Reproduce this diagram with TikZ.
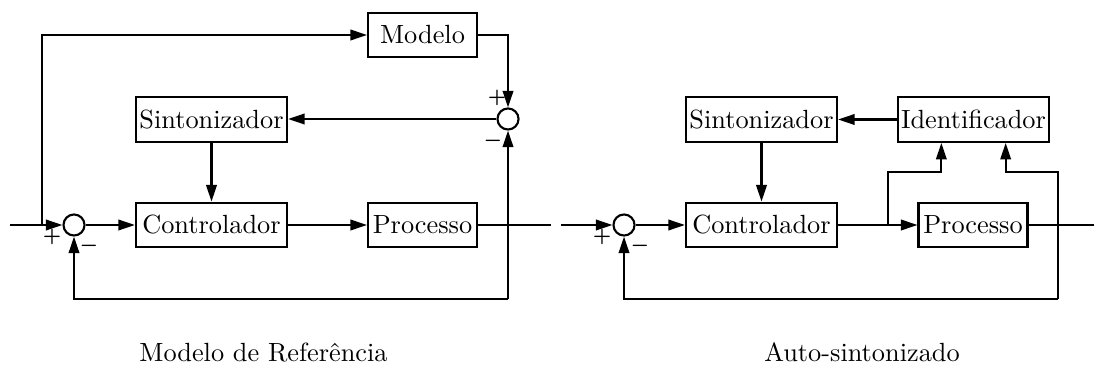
\documentclass[tikz,border=0pt]{standalone}
\usetikzlibrary{arrows.meta,calc}
\begin{document}
\begin{tikzpicture}[x=0.38pt,y=-0.38pt,
  line width=0.8pt,
  blk/.style={draw,rectangle,inner sep=0pt,minimum height=17pt,line width=0.8pt},
  wide/.style={blk,minimum width=57.4pt},
  narrow/.style={blk,minimum width=41.4pt},
  sumj/.style={draw,circle,inner sep=0pt,minimum size=8pt,line width=0.8pt},
  sgn/.style={inner sep=0pt,font=\fontsize{7.5}{7.5}\selectfont\boldmath},
  arr/.style={-{Triangle[length=6.3pt,width=4pt]}},
  captxt/.style={inner sep=0pt,anchor=base}]
\useasboundingbox (0,0) rectangle (1094,366);

% ---------- left: Modelo de Referencia ----------
\node[narrow] (modelo) at (422.5,35) {Modelo};
\node[wide] (sintL) at (211.5,119.5) {Sintonizador};
\node[wide] (ctrlL) at (211.5,225) {Controlador};
\node[narrow] (procL) at (422.5,225) {Processo};
\node[sumj] (sumL) at (74,225) {};
\node[sumj] (sum2) at (508,119) {};
\node[sgn] (pL) at (52,237) {$+$};
\node[sgn] (mL) at (89,246) {$-$};
\node[sgn] (p2) at (497,98) {$+$};
\node[sgn] (m2) at (493,141) {$-$};
\coordinate (inL) at (10,225);
\coordinate (brL) at (42,225);
\coordinate (outL) at (551,225);
\coordinate (fbL) at (508,299);

\draw[arr] (inL) -- (sumL.west);
\draw[arr] (brL) |- (modelo.west);
\draw[arr] (sumL.east) -- (ctrlL.west);
\draw[arr] (sintL.south) -- (ctrlL.north);
\draw[arr] (ctrlL.east) -- (procL.west);
\draw (procL.east) -- (outL);
\draw[arr] (modelo.east) -| (sum2.north);
\draw[arr] (sum2.west) -- (sintL.east |- sum2.west);
\draw[arr] (fbL) -- (sum2.south);
\draw[arr] (fbL) -| (sumL.south);

\node[captxt] (capL) at (263.5,361) {Modelo de Referência};

% ---------- right: Auto-sintonizado ----------
\node[wide] (sintR) at (761.5,119.5) {Sintonizador};
\node[wide] (ctrlR) at (761.5,225) {Controlador};
\node[wide] (ident) at (973.5,119.5) {Identificador};
\node[narrow] (procR) at (973,225) {Processo};
\node[sumj] (sumR) at (624,225) {};
\node[sgn] (pR) at (602,237) {$+$};
\node[sgn] (mR) at (640,246) {$-$};
\coordinate (inR) at (561,225);
\coordinate (brR) at (888,225);
\coordinate (uA) at (888,172);
\coordinate (uB) at (1058,172);
\coordinate (idA) at ($(ident.south west)!0.29!(ident.south east)$);
\coordinate (idB) at ($(ident.south west)!0.71!(ident.south east)$);
\coordinate (outR) at (1094,225);
\coordinate (fbR) at (1058,299);

\draw[arr] (inR) -- (sumR.west);
\draw[arr] (sumR.east) -- (ctrlR.west);
\draw[arr] (sintR.south) -- (ctrlR.north);
\draw[arr] (ident.west) -- (sintR.east);
\draw[arr] (ctrlR.east) -- (procR.west);
\draw[arr] (brR) -- (uA) -| (idA);
\draw (procR.east) -- (outR);
\draw[arr] (fbR) -- (uB) -| (idB);
\draw[arr] (fbR) -| (sumR.south);

\node[captxt] (capR) at (862,361) {Auto-sintonizado};
\end{tikzpicture}
\end{document}
